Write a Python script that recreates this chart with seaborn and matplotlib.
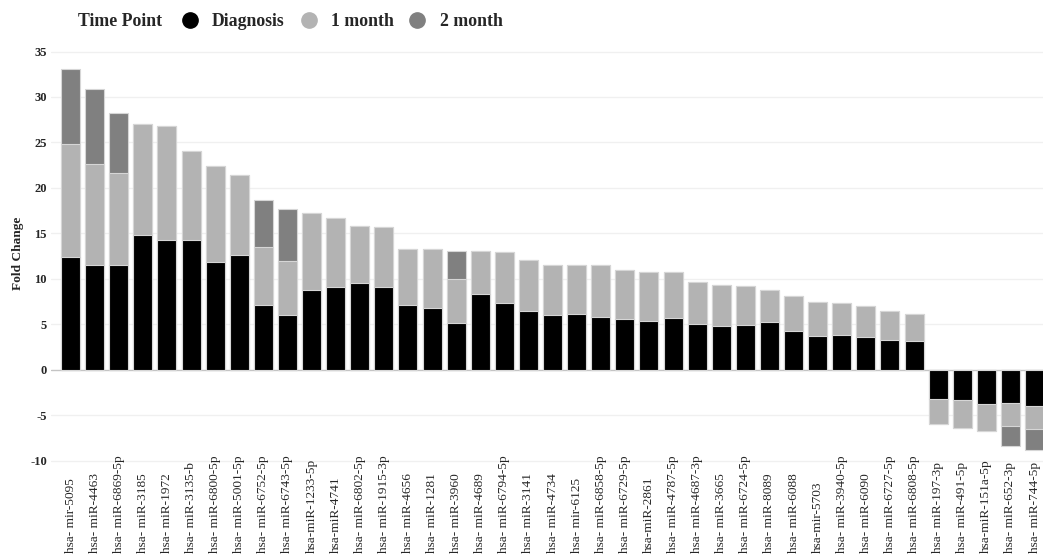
import numpy as np
import pandas as pd
import matplotlib
matplotlib.use("Agg")
import matplotlib.pyplot as plt
import matplotlib.transforms as mtransforms
from matplotlib.lines import Line2D
import seaborn as sns

# miRNAs in plotting order
mirnas = [
    "hsa- mir-5095", "hsa- miR-4463", "hsa- miR-6869-5p", "hsa- miR-3185",
    "hsa- miR-1972", "hsa- miR-3135-b", "hsa- miR-6800-5p", "hsa- miR-5001-5p",
    "hsa- miR-6752-5p", "hsa- miR-6743-5p", "hsa-miR-1233-5p", "hsa-miR-4741",
    "hsa- miR-6802-5p", "hsa- miR-1915-3p", "hsa- miR-4656", "hsa- miR-1281",
    "hsa- miR-3960", "hsa- miR-4689", "hsa- miR-6794-5p", "hsa- miR-3141",
    "hsa- miR-4734", "hsa- mir-6125", "hsa- miR-6858-5p", "hsa- miR-6729-5p",
    "hsa-miR-2861", "hsa- miR-4787-5p", "hsa- miR-4687-3p", "hsa- miR-3665",
    "hsa- miR-6724-5p", "hsa- miR-8089", "hsa- miR-6088", "hsa-mir-5703",
    "hsa- miR-3940-5p", "hsa- miR-6090", "hsa- miR-6727-5p", "hsa- miR-6808-5p",
    "hsa- miR-197-3p", "hsa- miR-491-5p", "hsa-miR-151a-5p", "hsa- miR-652-3p",
    "hsa- miR-744-5p",
]

# Fold change contributed at each time point (stacked segments)
diagnosis = [
    12.46, 11.58, 11.51, 14.81, 14.26, 14.30, 11.84, 12.61, 7.15, 6.01,
    8.76, 9.09, 9.53, 9.16, 7.15, 6.78, 5.10, 8.36, 7.33, 6.45,
    6.01, 6.12, 5.83, 5.57, 5.39, 5.68, 5.02, 4.85, 4.93, 5.22,
    4.23, 3.76, 3.80, 3.58, 3.32, 3.18, -3.18, -3.36, -3.76, -3.65,
    -3.98,
]
one_month = [
    12.32, 11.04, 10.08, 12.24, 12.54, 9.75, 10.52, 8.83, 6.34, 5.94,
    8.51, 7.66, 6.31, 6.60, 6.12, 6.49, 4.94, 4.73, 5.65, 5.61,
    5.57, 5.46, 5.68, 5.43, 5.39, 5.10, 4.62, 4.53, 4.34, 3.58,
    3.84, 3.65, 3.54, 3.43, 3.14, 2.95, -2.77, -3.03, -2.92, -2.55,
    -2.52,
]
two_month = [
    8.25, 8.21, 6.64, 0, 0, 0, 0, 0, 5.21, 5.72,
    0, 0, 0, 0, 0, 0, 3.05, 0, 0, 0,
    0, 0, 0, 0, 0, 0, 0, 0, 0, 0,
    0, 0, 0, 0, 0, 0, 0, 0, 0, -2.16,
    -2.30,
]

time_points = ["Diagnosis", "1 month", "2 month"]
colors = {"Diagnosis": "#000000", "1 month": "#b3b3b3", "2 month": "#808080"}

df = pd.DataFrame({
    "miRNA": mirnas,
    "Diagnosis": np.array(diagnosis),
    "1 month": np.array(diagnosis) + np.array(one_month),
    "2 month": np.array(diagnosis) + np.array(one_month) + np.array(two_month),
})

sns.set_style("white")
plt.rcParams["font.family"] = ["Liberation Serif", "DejaVu Serif"]

W, H = 1043, 557
fig = plt.figure(figsize=(W / 100, H / 100), dpi=100)
ax_left, ax_right, ax_top, ax_bottom = 51, 1049, 50.6, 469
ax = fig.add_axes([ax_left / W, 1 - ax_bottom / H,
                   (ax_right - ax_left) / W, (ax_bottom - ax_top) / H])

# Gridlines behind the bars
yticks = np.arange(-10, 36, 5)
for t in yticks:
    ax.axhline(t, color="#c4c4c4" if t == 0 else "#f0f0f0",
               lw=1.0, zorder=0)

# Stacked bars: draw cumulative totals from the outermost segment inwards
for tp in ["2 month", "1 month", "Diagnosis"]:
    sns.barplot(data=df, x="miRNA", y=tp, order=mirnas, color=colors[tp],
                saturation=1, width=0.79, errorbar=None,
                edgecolor="#d6d6d6", linewidth=0.8, ax=ax, zorder=2)

ax.set_xlim(-0.81, 40.6)
ax.set_ylim(-10.9, 35.1)
ax.set_yticks(yticks)
ax.set_yticklabels([str(t) for t in yticks])
ax.tick_params(axis="y", length=0, pad=3, labelsize=9)
for lbl in ax.get_yticklabels():
    lbl.set_fontweight("bold")
ax.tick_params(axis="x", length=0, labelbottom=False)
ax.set_xlabel("")
for s in ax.spines.values():
    s.set_visible(False)
ax.grid(False)

ax.set_ylabel("Fold Change", fontsize=9.6, fontweight="bold")
ax.yaxis.set_label_coords(-0.027, 0.515)

# Category labels, aligned at their start along the bottom edge
trans = mtransforms.blended_transform_factory(ax.transData, fig.transFigure)
for i, name in enumerate(mirnas):
    ax.text(i, 1 - 553 / H, name, rotation=90, ha="center", va="bottom",
            fontsize=9.6, transform=trans, clip_on=False)

# Legend across the top
fig.text(78 / W, 1 - 22 / H, "Time Point", fontsize=12.8, fontweight="bold",
         ha="left", va="center")
handles = [Line2D([], [], marker="o", linestyle="", markersize=11,
                  markerfacecolor=colors[tp], markeredgecolor=colors[tp])
           for tp in time_points]
fig.legend(handles, time_points, loc="center left",
           bbox_to_anchor=(181 / W, 1 - 22 / H), ncol=3, frameon=False,
           borderpad=0, borderaxespad=0, handlelength=1.0,
           handletextpad=0.74, columnspacing=0.85,
           prop={"family": "Liberation Serif", "weight": "bold", "size": 12.8})

fig.savefig("out.png", dpi=100)
